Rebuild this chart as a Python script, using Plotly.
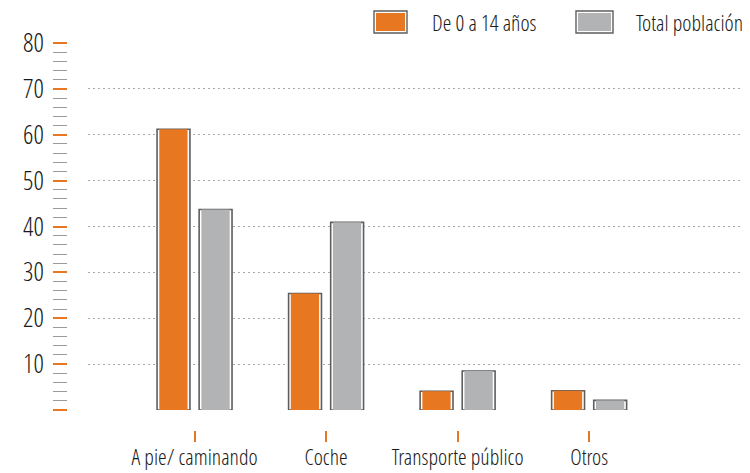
import plotly.graph_objects as go

categories = ["A pie/ caminando", "Coche", "Transporte público", "Otros"]
ninos = [61.2, 25.4, 4.1, 4.2]
total = [43.7, 40.9, 8.5, 2.1]
series_names = ["De 0 a 14 años", "Total población"]
y_ticks = [0, 10, 20, 30, 40, 50, 60, 70, 80]
y_ticktext = ["", "10", "20", "30", "40", "50", "60", "70", "80"]

ORANGE = "#E87722"
GRAY = "#B2B3B5"
OUTLINE = "#5E5E5E"
FONT = "Open Sans Condensed Light, Open Sans, sans-serif"
TEXT = "#1A1A1A"

OFF = 8
W, H = 750 - OFF, 473 - OFF
def px(x):
    return (x - OFF) / W
def py(y):
    return (H - (y - OFF)) / H

xpos = list(range(len(categories)))

fig = go.Figure()
for vals, color, off_o, off_f, name in [
    (ninos, ORANGE, -0.285, -0.268, series_names[0]),
    (total, GRAY, 0.035, 0.052, series_names[1]),
]:
    fig.add_trace(go.Bar(
        x=xpos, y=vals, width=0.25, offset=off_o,
        marker=dict(color="white", line=dict(color=OUTLINE, width=1.6)),
        showlegend=False, hoverinfo="skip",
    ))
    fig.add_trace(go.Bar(
        x=xpos, y=vals, width=0.215, offset=off_f,
        marker=dict(color=color, line=dict(width=0)),
        name=name, showlegend=False,
    ))

fig.update_layout(
    width=W, height=H,
    margin=dict(l=0, r=0, t=0, b=0, autoexpand=False),
    paper_bgcolor="white", plot_bgcolor="white",
    barmode="overlay",
    font=dict(family=FONT, color=TEXT, size=22),
    xaxis=dict(
        domain=[px(88), px(745)],
        range=[-0.81, 4.185],
        tickmode="array", tickvals=xpos, ticktext=categories,
        ticks="outside", ticklen=11, tickcolor=ORANGE, tickwidth=1.5,
        showgrid=False, zeroline=False, showline=False,
        anchor="free", position=py(430), automargin=False,
        tickfont=dict(family=FONT, size=22, color=TEXT),
        ticklabelstandoff=-3,
    ),
    yaxis=dict(
        domain=[py(410), py(43)],
        range=[0, 80],
        tickmode="array", tickvals=y_ticks[:-1],
        showticklabels=False, ticks="",
        showgrid=True, gridcolor="#A8A8A8", gridwidth=1, griddash="2px,3px",
        zeroline=False, showline=False, automargin=False,
    ),
    yaxis2=dict(
        overlaying="y", anchor="free", position=px(67), side="left",
        range=[0, 80], automargin=False,
        tickmode="array", tickvals=y_ticks, ticktext=y_ticktext,
        ticks="outside", ticklen=14, tickcolor=ORANGE, tickwidth=1.5,
        minor=dict(dtick=2, ticks="outside", ticklen=14, tickcolor="#9A9A9A", tickwidth=1.2),
        showgrid=False, zeroline=False, showline=False,
        tickfont=dict(family=FONT, size=26, color=TEXT),
        ticklabelstandoff=4,
    ),
)
fig.add_trace(go.Scatter(x=[None], y=[None], yaxis="y2", showlegend=False, hoverinfo="skip"))

legend_items = [
    (series_names[0], ORANGE, 376, 405, 430),
    (series_names[1], GRAY, 578, 611, 634),
]
for name, color, x0, x1, tx in legend_items:
    fig.add_shape(type="rect", xref="paper", yref="paper",
                  x0=px(x0 - 2), x1=px(x1 + 2), y0=py(33), y1=py(11),
                  line=dict(color=OUTLINE, width=1.4), fillcolor="white", layer="above")
    fig.add_shape(type="rect", xref="paper", yref="paper",
                  x0=px(x0), x1=px(x1), y0=py(31), y1=py(13),
                  line=dict(width=0), fillcolor=color, layer="above")
    fig.add_annotation(text=name, xref="paper", yref="paper", x=px(tx), y=py(22),
                       xanchor="left", yanchor="middle", showarrow=False,
                       font=dict(family=FONT, size=22, color=TEXT))

fig.write_html("out.html")
